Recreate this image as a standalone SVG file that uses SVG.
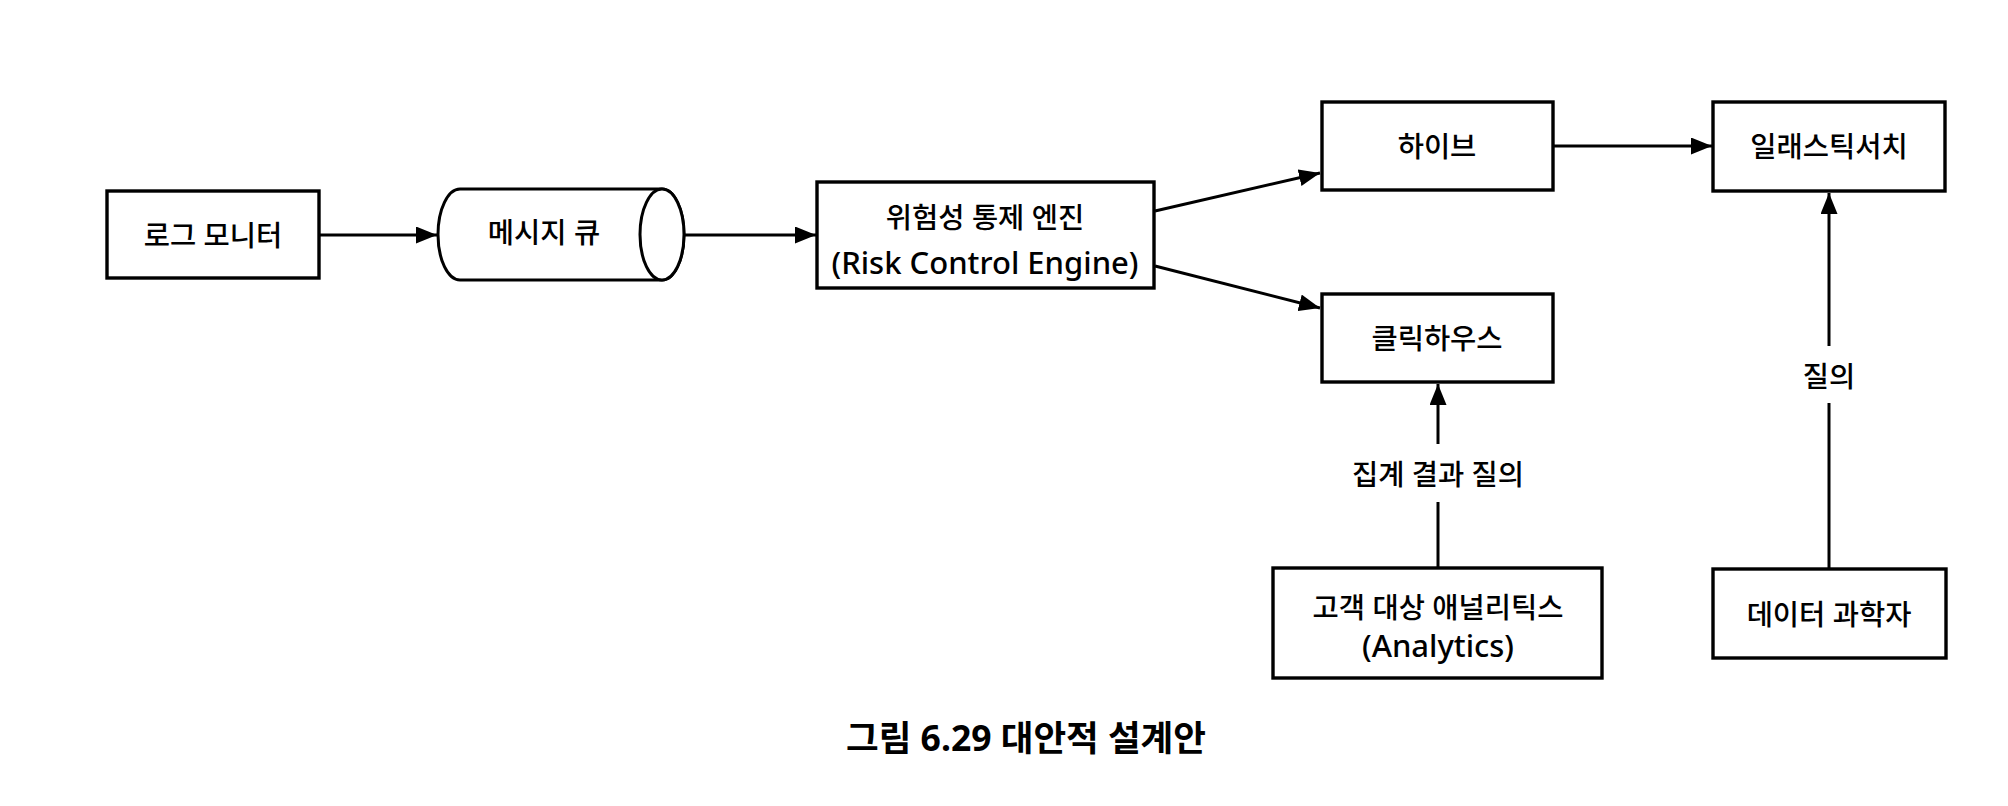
<svg xmlns="http://www.w3.org/2000/svg" width="2008" height="806" viewBox="0 0 2008 806">
  <style>
    .box { fill: #ffffff; stroke: #000000; stroke-width: 3.4; }
    .cyl { fill: #ffffff; stroke: #000000; stroke-width: 3; }
    .conn { fill: none; stroke: #000000; stroke-width: 3; }
    .t { font-family: "Noto Sans", "Noto Sans CJK KR", sans-serif; font-size: 28.5px; font-weight: 500; fill: #000000; text-anchor: middle; dominant-baseline: central; }
    .lat { font-size: 31px; }
    .cap { font-family: "Noto Sans", "Noto Sans CJK KR", sans-serif; font-size: 35.5px; font-weight: 700; fill: #000000; text-anchor: middle; dominant-baseline: central; }
  </style>
  <defs>
    <marker id="arrow" markerUnits="userSpaceOnUse" markerWidth="21" markerHeight="17" viewBox="0 0 21 17" refX="21" refY="8.5" orient="auto">
      <path d="M0,0 L21,8.5 L0,17 Z" fill="#000000"/>
    </marker>
  </defs>
  <rect x="0" y="0" width="2008" height="806" fill="#ffffff"/>

  <g id="connectors">
    <path class="conn" d="M320,235 H437" marker-end="url(#arrow)"/>
    <path class="conn" d="M685,235 H816" marker-end="url(#arrow)"/>
    <path class="conn" d="M1155,211 L1320,173" marker-end="url(#arrow)"/>
    <path class="conn" d="M1155,266 L1320,308" marker-end="url(#arrow)"/>
    <path class="conn" d="M1554,146 H1712" marker-end="url(#arrow)"/>
    <path class="conn" d="M1438,567 V502"/>
    <path class="conn" d="M1438,444 V384" marker-end="url(#arrow)"/>
    <path class="conn" d="M1829,568 V403"/>
    <path class="conn" d="M1829,346 V193" marker-end="url(#arrow)"/>
    <text class="t" x="1438" y="474">집계 결과 질의</text>
    <text class="t" x="1829" y="376">질의</text>
  </g>

  <g id="log-monitor">
    <rect class="box" x="107" y="191" width="212" height="87"/>
    <text class="t" x="213" y="235">로그 모니터</text>
  </g>

  <g id="message-queue">
    <path class="cyl" d="M460,189 H662 A22,45.5 0 0 1 662,280 H460 A22,45.5 0 0 1 460,189 Z"/>
    <ellipse class="cyl" cx="662" cy="234.5" rx="22" ry="45.5"/>
    <text class="t" x="544" y="232">메시지 큐</text>
  </g>

  <g id="risk-engine">
    <rect class="box" x="817" y="182" width="337" height="106"/>
    <text class="t" x="985" y="217">위험성 통제 엔진</text>
    <text class="t lat" x="985" y="262">(Risk Control Engine)</text>
  </g>

  <g id="hive">
    <rect class="box" x="1322" y="102" width="231" height="88"/>
    <text class="t" x="1437" y="146">하이브</text>
  </g>

  <g id="elasticsearch">
    <rect class="box" x="1713" y="102" width="232" height="89"/>
    <text class="t" x="1829" y="146">일래스틱서치</text>
  </g>

  <g id="clickhouse">
    <rect class="box" x="1322" y="294" width="231" height="88"/>
    <text class="t" x="1437" y="338">클릭하우스</text>
  </g>

  <g id="analytics">
    <rect class="box" x="1273" y="568" width="329" height="110"/>
    <text class="t" x="1438" y="607">고객 대상 애널리틱스</text>
    <text class="t lat" x="1438" y="645">(Analytics)</text>
  </g>

  <g id="data-scientist">
    <rect class="box" x="1713" y="569" width="233" height="89"/>
    <text class="t" x="1829" y="614">데이터 과학자</text>
  </g>

  <text class="cap" x="1026" y="737">그림 6.29 대안적 설계안</text>
</svg>
